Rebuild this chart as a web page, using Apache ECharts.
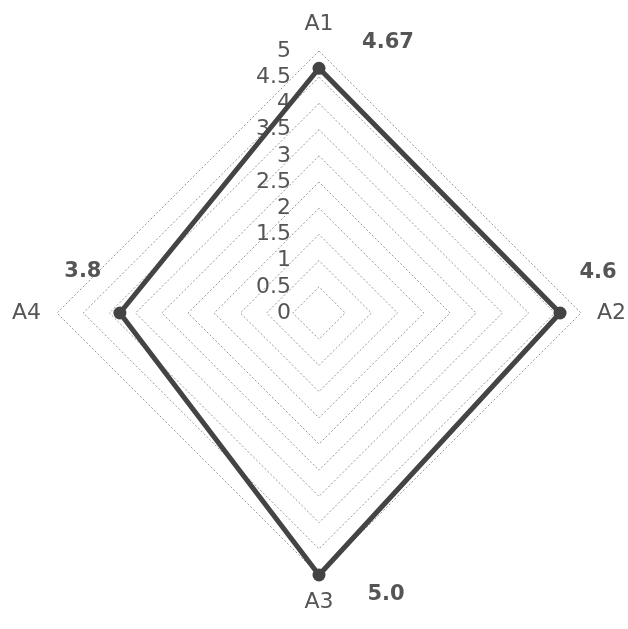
<!DOCTYPE html>
<html>
<head>
<meta charset="utf-8">
<script src="https://cdn.jsdelivr.net/npm/echarts@6/dist/echarts.min.js"></script>
<style>
  html, body { margin: 0; padding: 0; background: #fff; }
  #chart { width: 628px; height: 629px; }
</style>
</head>
<body>
<div id="chart"></div>
<script>
// indicators listed counter-clockwise from the top (ECharts draw order)
const axisNames = ['A1', 'A4', 'A3', 'A2']
const scores = [4.67, 3.8, 5.0, 4.6]
const maxScore = 5
const tickStep = 0.5
// where each value label sits relative to its point
const labelOffsets = [[69, -26], [-37, -41], [67, 20], [38, -40]]

const chart = echarts.init(document.getElementById('chart'))

const fmt = v => (v % 1 === 0 ? v.toFixed(1) : String(v))

// one invisible series per point, only to place its value label
const labelSeries = scores.map((s, k) => ({
  type: 'radar',
  symbol: 'circle',
  symbolSize: 2,
  lineStyle: { width: 0, color: 'rgba(0,0,0,0)' },
  itemStyle: { color: 'rgba(0,0,0,0)' },
  silent: true,
  z: 5,
  label: {
    show: true,
    position: 'inside',
    offset: labelOffsets[k],
    fontFamily: 'DejaVu Sans',
    fontWeight: 'bold',
    fontSize: 21,
    color: '#555',
    formatter: p => {
      const v = Array.isArray(p.value) ? NaN : Number(p.value)
      return Math.abs(v - s) < 1e-9 ? fmt(v) : ''
    }
  },
  data: [{ value: scores }]
}))

const option = {
  backgroundColor: '#fff',
  animation: false,
  radar: {
    center: [319, 313],
    radius: 262,
    shape: 'polygon',
    splitNumber: maxScore / tickStep,
    indicator: axisNames.map(n => ({ name: n, min: 0, max: maxScore })),
    axisName: { color: '#555', fontFamily: 'DejaVu Sans', fontSize: 22 },
    nameGap: 16,
    axisLine: { show: false },
    axisTick: { show: false },
    splitArea: { show: false },
    splitLine: { lineStyle: { color: '#999', width: 1, type: [2, 2] } }
  },
  // vertical value scale laid along the A1 axis
  grid: { left: 319, top: 51, width: 1, height: 262 },
  xAxis: { type: 'value', show: false },
  yAxis: {
    type: 'value',
    min: 0,
    max: maxScore,
    interval: tickStep,
    axisLine: { show: false },
    axisTick: { show: false },
    splitLine: { show: false },
    axisLabel: {
      margin: 28,
      fontFamily: 'DejaVu Sans',
      fontSize: 22,
      color: '#555'
    }
  },
  series: [
    {
      type: 'radar',
      symbol: 'circle',
      symbolSize: 13,
      lineStyle: { color: '#444', width: 5 },
      itemStyle: { color: '#444' },
      data: [{ value: scores }]
    },
    ...labelSeries
  ]
}

chart.setOption(option)
</script>
</body>
</html>
